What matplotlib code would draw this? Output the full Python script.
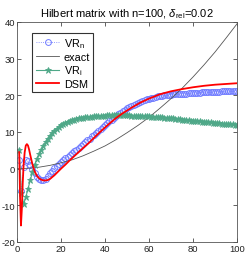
import numpy as np
import matplotlib
matplotlib.use("Agg")
import matplotlib.pyplot as plt

# ---- data ----
idx = list(range(1, 101))

vr_n = [2.5, -6.0, 0.5, 2.3, 2.0, 1.0, -0.2, -1.3, -2.2, -2.7,
        -3.0, -3.0, -2.7, -2.1, -1.2, -0.5, 0.2, 0.8, 1.3, 1.8,
        2.3, 2.8, 3.2, 3.7, 4.2, 4.7, 5.2, 5.7, 6.2, 6.7,
        7.2, 7.7, 8.2, 8.8, 9.3, 9.8, 10.4, 10.9, 11.4, 11.9,
        12.4, 12.9, 13.4, 13.9, 14.4, 14.9, 15.3, 15.7, 16.1, 16.5,
        16.8, 17.1, 17.4, 17.7, 18.0, 18.2, 18.5, 18.7, 18.9, 19.1,
        19.3, 19.4, 19.6, 19.7, 19.8, 19.9, 20.0, 20.1, 20.2, 20.2,
        20.3, 20.3, 20.4, 20.4, 20.5, 20.5, 20.5, 20.6, 20.6, 20.6,
        20.7, 20.7, 20.7, 20.8, 20.8, 20.8, 20.9, 20.9, 20.9, 21.0,
        21.0, 21.0, 21.1, 21.1, 21.1, 21.2, 21.2, 21.2, 21.3, 21.3]

vr_i = [5.0, -6.5, -9.6, -7.8, -5.5, -3.2, -1.0, 1.0, 2.6, 4.0,
        5.2, 6.3, 7.3, 8.2, 9.0, 9.7, 10.3, 10.9, 11.4, 11.8,
        12.2, 12.5, 12.8, 13.0, 13.2, 13.4, 13.5, 13.7, 13.8, 13.9,
        14.0, 14.1, 14.2, 14.2, 14.3, 14.3, 14.4, 14.4, 14.5, 14.5,
        14.6, 14.6, 14.6, 14.6, 14.6, 14.6, 14.6, 14.6, 14.6, 14.6,
        14.6, 14.5, 14.5, 14.5, 14.5, 14.4, 14.4, 14.4, 14.3, 14.3,
        14.2, 14.2, 14.1, 14.1, 14.0, 14.0, 13.9, 13.9, 13.8, 13.7,
        13.7, 13.6, 13.5, 13.5, 13.4, 13.3, 13.3, 13.2, 13.1, 13.1,
        13.0, 12.9, 12.9, 12.8, 12.8, 12.7, 12.6, 12.6, 12.5, 12.5,
        12.4, 12.4, 12.3, 12.3, 12.2, 12.2, 12.1, 12.1, 12.0, 12.0]

exact_x = [0, 5, 10, 15, 20, 25, 30, 35, 40, 45, 50, 55, 60, 65, 70, 75, 80, 85, 90, 95, 100]
exact_y = [0.0, 0.1, 0.4, 0.9, 1.6, 2.4, 3.5, 4.8, 6.2, 7.9, 9.8, 11.8, 14.0, 16.5,
           19.1, 21.9, 25.0, 28.3, 31.8, 35.6, 39.5]

dsm_x = [1.0, 1.4, 1.8, 2.2, 2.6, 3.0, 3.5, 4.0, 4.5, 5.0, 5.5, 6.0, 7.0, 8.0, 9.0,
         10, 11, 12, 13, 14, 15, 16, 17, 18, 19, 20, 22, 24, 26, 28, 30, 33, 36, 39,
         42, 45, 48, 52, 56, 60, 65, 70, 75, 80, 85, 90, 95, 100]
dsm_y = [4.5, -8.0, -15.5, -11.0, -4.0, 1.0, 4.5, 6.3, 6.7, 6.3, 5.2, 3.8, 1.2, -0.7, -1.9,
         -2.6, -3.0, -3.2, -3.2, -3.1, -2.8, -2.3, -1.8, -1.2, -0.6, 0.0, 1.1, 2.3, 3.4,
         4.5, 5.6, 7.2, 9.0, 10.7, 12.3, 13.8, 15.1, 16.6, 18.0, 19.1, 20.3, 21.1, 21.7,
         22.2, 22.6, 22.9, 23.1, 23.3]

xticks = [0, 20, 40, 60, 80, 100]
yticks = [-20, -10, 0, 10, 20, 30, 40]

plt.rcParams['font.family'] = ['Liberation Sans', 'DejaVu Sans']
plt.rcParams['mathtext.fontset'] = 'custom'
plt.rcParams['mathtext.rm'] = 'Liberation Sans'
plt.rcParams['mathtext.it'] = 'Liberation Sans:italic'
plt.rcParams['axes.unicode_minus'] = False

fig = plt.figure(figsize=(2.46, 2.55), dpi=100)
ax = fig.add_axes([17/246, 12/255, 220/246, 220/255])

blue = '#6f7bff'
green = '#4fa888'

ax.plot(idx, vr_n, linestyle=':', color=blue, marker='o', markersize=4.2,
        markerfacecolor='none', markeredgewidth=0.7, linewidth=0.6, label='VR$_\\mathrm{n}$')
ax.plot(exact_x, exact_y, color='#555555', linewidth=0.6, label='exact')
ax.plot(idx, vr_i, linestyle='-', color=green, marker='*', markersize=5,
        markeredgewidth=0.6, linewidth=0.8, label='VR$_\\mathrm{i}$')
ax.plot(dsm_x, dsm_y, color='#ff0000', linewidth=1.3, label='DSM')

ax.set_xlim(0, 100)
ax.set_ylim(-20, 40)
ax.set_xticks(xticks)
ax.set_yticks(yticks)
ax.tick_params(direction='in', top=True, right=True, labelsize=6.8, length=3,
               width=0.5, pad=1.5, colors='#222222')
for s in ax.spines.values():
    s.set_linewidth(0.6)
    s.set_color('#555555')

ax.set_title('Hilbert matrix with n=100, $\\delta_{\\rm rel}$=0.02', fontsize=8, pad=4)

leg = ax.legend(loc='upper left', bbox_to_anchor=(0.07, 0.95), fontsize=7.8,
                frameon=True, fancybox=False, edgecolor='black', borderpad=0.3,
                labelspacing=0.15, handlelength=2.2, handletextpad=0.4,
                borderaxespad=0)
leg.get_frame().set_linewidth(0.8)

fig.savefig('out.png', dpi=100)
